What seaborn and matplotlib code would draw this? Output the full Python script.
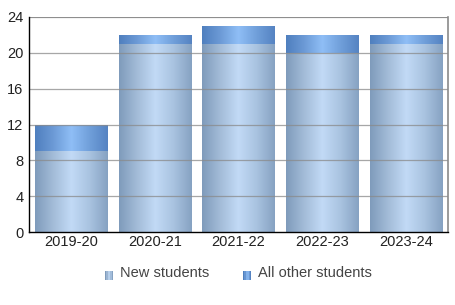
import numpy as np
import pandas as pd
import matplotlib
matplotlib.use("Agg")
import matplotlib.pyplot as plt
import seaborn as sns
from matplotlib.colors import LinearSegmentedColormap
from matplotlib.patches import Rectangle
from matplotlib.legend_handler import HandlerBase

years = ["2019-20", "2020-21", "2021-22", "2022-23", "2023-24"]
new_students = [9, 21, 21, 20, 21]
other_students = [3, 1, 2, 2, 1]
series_names = ["New students", "All other students"]
yticks = [0, 4, 8, 12, 16, 20, 24]

totals = [a + b for a, b in zip(new_students, other_students)]
df = pd.DataFrame({"year": years, "new": new_students, "total": totals})

sns.set_theme(style="white")
plt.rcParams['font.family'] = ['Liberation Sans', 'DejaVu Sans']

new_cmap = LinearSegmentedColormap.from_list(
    "new", ["#7f9bbb", "#a3bcd8", "#c2daf6", "#a9c3e0", "#86a2c2"])
oth_cmap = LinearSegmentedColormap.from_list(
    "oth", ["#4f7fbe", "#6c9ad6", "#8fbef6", "#709fda", "#5583c2"])

fig = plt.figure(figsize=(4.56, 3.05), dpi=100)
ax = fig.add_axes([29/456, 1 - 232/305, (448 - 29)/456, (232 - 17)/305])

sns.barplot(data=df, x="year", y="total", color="#6c9ad6", width=0.86,
            ax=ax, saturation=1, zorder=2)
n_tot = len(ax.patches)
sns.barplot(data=df, x="year", y="new", color="#a3bcd8", width=0.86,
            ax=ax, saturation=1, zorder=2)

grad = np.linspace(0, 1, 256).reshape(1, -1)
for i, p in enumerate(ax.patches):
    cmap = oth_cmap if i < n_tot else new_cmap
    x0, y0 = p.get_x(), p.get_y()
    w, h = p.get_width(), p.get_height()
    im = ax.imshow(grad, cmap=cmap, aspect="auto",
                   extent=[x0, x0 + w, y0, y0 + h], zorder=3 if i >= n_tot else 2.5,
                   interpolation="bicubic")
    im.set_clip_path(p)
    p.set_alpha(0)

ax.set_xlim(-0.5, len(years) - 0.5)
ax.set_ylim(0, 24)
ax.set_yticks(yticks)
ax.set_yticklabels([str(t) for t in yticks])
ax.set_xlabel("")
ax.set_ylabel("")
ax.tick_params(axis="both", length=0, labelsize=10.5, colors="#222222", pad=2)
ax.tick_params(axis="y", pad=4)
for t in yticks[1:]:
    ax.axhline(t, color="#8a8a8a", lw=0.9, zorder=4, alpha=0.75)
ax.axhline(24, color="#8a8a8a", lw=1.2, zorder=5)
ax.spines["top"].set_visible(False)
ax.spines["right"].set_color("#8a8a8a")
ax.spines["right"].set_linewidth(1.2)
ax.spines["left"].set_color("black")
ax.spines["bottom"].set_color("black")
ax.spines["left"].set_linewidth(1.0)
ax.spines["bottom"].set_linewidth(1.0)
ax.spines["left"].set_zorder(6)
ax.spines["bottom"].set_zorder(6)


class GradHandler(HandlerBase):
    def __init__(self, cmap):
        super().__init__()
        self.cmap = cmap

    def create_artists(self, legend, orig_handle, xdescent, ydescent,
                       width, height, fontsize, trans):
        arts = []
        n = 6
        sz = height * 0.85
        x0 = width - sz
        for k in range(n):
            r = Rectangle((x0 + k * sz / n, -height * 0.28), sz / n, sz,
                          facecolor=self.cmap(k / (n - 1)), edgecolor="none",
                          transform=trans)
            arts.append(r)
        return arts


h1 = Rectangle((0, 0), 1, 1)
h2 = Rectangle((0, 0), 1, 1)
leg = fig.legend([h1, h2], series_names, loc="center", ncol=2,
                 bbox_to_anchor=(236/456, 1 - 273/305), frameon=False,
                 handler_map={h1: GradHandler(new_cmap), h2: GradHandler(oth_cmap)},
                 handlelength=0.9, handletextpad=0.45, columnspacing=2.0,
                 fontsize=10.5)
for t in leg.get_texts():
    t.set_color("#444444")

fig.savefig("out.png", dpi=100)
